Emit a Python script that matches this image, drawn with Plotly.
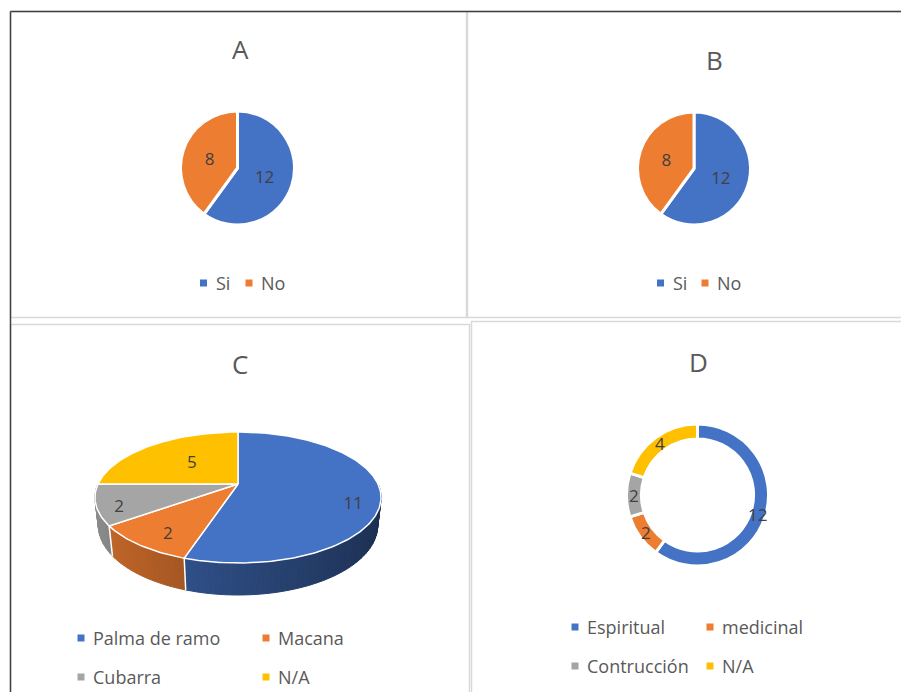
import math
import plotly.graph_objects as go

# The page body has an 8px margin, so the figure is placed at (8, 8) in the window.
OFF = 8
WIN_W, WIN_H = 909, 692
W, H = WIN_W - OFF, WIN_H - OFF

# ---------------- data ----------------
titles = ["A", "B", "C", "D"]
a_labels = ["Si", "No"]
a_values = [12, 8]
b_labels = ["Si", "No"]
b_values = [12, 8]
c_labels = ["Palma de ramo", "Macana", "Cubarra", "N/A"]
c_values = [11, 2, 2, 5]
d_labels = ["Espiritual", "medicinal", "Contrucción", "N/A"]
d_values = [12, 2, 2, 4]

# ---------------- style ----------------
COLORS = ["#4472C4", "#ED7D31", "#A5A5A5", "#FFC000"]
TEXT_C = "#404040"
TITLE_C = "#595959"
FONT = "Open Sans"
LBL_SIZE = 17
LEG_SIZE = 18
TITLE_SIZE = 26


def dom(cx, cy, r):
    """pie domain from a centre/radius given in window pixels"""
    return dict(x=[(cx - r - OFF) / W, (cx + r - OFF) / W],
                y=[1 - (cy + r - OFF) / H, 1 - (cy - r - OFF) / H])


def hex_rgb(h):
    h = h.lstrip("#")
    return tuple(int(h[i:i + 2], 16) for i in (0, 2, 4))


def shade(h, f):
    r, g, b = hex_rgb(h)
    return "rgb(%d,%d,%d)" % (round(r * f), round(g * f), round(b * f))


fig = go.Figure()

pie_common = dict(
    sort=False, direction="clockwise", rotation=0,
    textposition="inside", insidetextorientation="horizontal",
    textfont=dict(size=LBL_SIZE, color=TEXT_C, family=FONT),
    showlegend=False, hoverinfo="label+value",
)

# A
fig.add_trace(go.Pie(labels=a_labels, values=a_values, domain=dom(237.5, 168, 57), textinfo="value",
                     marker=dict(colors=COLORS[:2], line=dict(color="white", width=3)),
                     **pie_common))
# B
fig.add_trace(go.Pie(labels=b_labels, values=b_values, domain=dom(694, 168.5, 56.5), textinfo="value",
                     marker=dict(colors=COLORS[:2], line=dict(color="white", width=3)),
                     **pie_common))
# D (doughnut) - labels placed on the ring centre line (annotations below)
D_CX, D_CY, D_R, D_HOLE = 697.5, 495, 71, 0.79
fig.add_trace(go.Pie(labels=d_labels, values=d_values, domain=dom(D_CX, D_CY, D_R), hole=D_HOLE,
                     textinfo="none",
                     marker=dict(colors=COLORS, line=dict(color="white", width=3)),
                     **pie_common))

# C : 3-D pie projected with a simple perspective camera
CX, CY = 238, 484          # projected centre of the pie (window px)
F, DIST = 607.6, 4.34      # focal length (px per radius), camera distance (radii)
SE, CE = 0.448, 0.894      # sin / cos of the elevation
THICK = 0.2235             # pie thickness (radii)
LABEL_R = [0.82, 0.75, 0.85, 0.5]
LABEL_Z = [-0.1, -0.05, -0.05, 0.0]


def proj(theta, rho, z):
    t = math.radians(theta)
    X = rho * math.sin(t)
    Yd = rho * math.cos(t)
    depth = DIST + Yd * CE - z * SE
    sx = X * F / depth
    sy = (Yd * SE + z * CE) * F / depth
    return CX + sx, CY - sy


def spans(values):
    tot = sum(values)
    out, acc = [], 0
    for v in values:
        a0 = acc / tot * 360
        acc += v
        out.append((a0, acc / tot * 360))
    return out


bounds = spans(c_values)

# side walls (front half only)
for i, (a0, a1) in enumerate(bounds):
    s0, s1 = max(a0, 90), min(a1, 270)
    if s1 <= s0:
        continue
    n = max(2, int((s1 - s0) / 2))
    for k in range(n):
        t0 = s0 + (s1 - s0) * k / n
        t1 = s0 + (s1 - s0) * (k + 1) / n
        tm = (t0 + t1) / 2
        f = 0.40 + 0.45 * (1 - math.sin(math.radians(tm))) / 2
        col = shade(COLORS[i], f)
        pts = [proj(t0, 1, 0), proj(t1, 1, 0), proj(t1, 1, -THICK), proj(t0, 1, -THICK)]
        xs = [p[0] for p in pts] + [pts[0][0]]
        ys = [p[1] for p in pts] + [pts[0][1]]
        fig.add_trace(go.Scatter(x=xs, y=ys, fill="toself", fillcolor=col, mode="lines",
                                 line=dict(color=col, width=1), hoverinfo="skip", showlegend=False))

# white seams on the side wall
for (a0, a1) in bounds:
    if 90 < a0 < 270:
        p0, p1 = proj(a0, 1, 0), proj(a0, 1, -THICK)
        fig.add_trace(go.Scatter(x=[p0[0], p1[0]], y=[p0[1], p1[1]], mode="lines",
                                 line=dict(color="white", width=1.5), hoverinfo="skip",
                                 showlegend=False))

# top faces
apex = proj(0, 0, 0)
for i, (a0, a1) in enumerate(bounds):
    n = max(4, int(a1 - a0))
    arc = [proj(a0 + (a1 - a0) * k / n, 1, 0) for k in range(n + 1)]
    xs = [apex[0]] + [p[0] for p in arc] + [apex[0]]
    ys = [apex[1]] + [p[1] for p in arc] + [apex[1]]
    fig.add_trace(go.Scatter(x=xs, y=ys, fill="toself", fillcolor=COLORS[i], mode="lines",
                             line=dict(color="white", width=1.5), name=c_labels[i],
                             hoverinfo="name", showlegend=False))

# value labels of C
lx, ly = [], []
for i, (a0, a1) in enumerate(bounds):
    p = proj((a0 + a1) / 2, LABEL_R[i], LABEL_Z[i])
    lx.append(p[0])
    ly.append(p[1])
fig.add_trace(go.Scatter(x=lx, y=ly, mode="text", text=[str(v) for v in c_values],
                         textfont=dict(size=LBL_SIZE, color=TEXT_C, family=FONT),
                         hoverinfo="skip", showlegend=False))

annotations = []

# value labels of D on the ring centre line (annotations sit above the pie layer)
r_mid = D_R * (1 + D_HOLE) / 2
for v, (a0, a1) in zip(d_values, spans(d_values)):
    t = math.radians((a0 + a1) / 2)
    annotations.append(dict(xref="x", yref="y", x=D_CX + r_mid * math.sin(t), y=D_CY - r_mid * math.cos(t),
                            text=str(v), showarrow=False,
                            font=dict(size=LBL_SIZE, color=TEXT_C, family=FONT)))

# ---------------- layout decorations ----------------
shapes = []
LIGHT = "#D9D9D9"
for (x0, y0, x1, y1) in [(10, 11, 466, 317), (467, 11, 912, 317), (10, 324, 469, 695), (471, 321, 912, 695)]:
    shapes.append(dict(type="rect", xref="x", yref="y", x0=x0 + 0.5, y0=y0 + 0.5, x1=x1 + 0.5, y1=y1 + 0.5,
                       line=dict(color=LIGHT, width=1.5), layer="below"))
shapes.append(dict(type="line", xref="x", yref="y", x0=10.5, y0=11.5, x1=10.5, y1=WIN_H,
                   line=dict(color="#404040", width=1.5)))
shapes.append(dict(type="line", xref="x", yref="y", x0=10.5, y0=11.5, x1=WIN_W, y1=11.5,
                   line=dict(color="#404040", width=1.5)))

for t, (tx, ty) in zip(titles, [(240, 49), (714, 60), (240, 364), (698, 362)]):
    annotations.append(dict(xref="x", yref="y", x=tx, y=ty, text=t, showarrow=False,
                            font=dict(size=TITLE_SIZE, color=TITLE_C, family=FONT)))

SQ = 3.5
legend_specs = [
    (a_labels, [(203.5, 283), (249, 283)]),
    (b_labels, [(660.5, 283), (705, 283)]),
    (c_labels, [(81, 638), (266, 638), (81, 677), (266, 677)]),
    (d_labels, [(575, 627), (710, 627), (575, 666), (710, 666)]),
]
for labels, pos in legend_specs:
    for i, (lab, (sx, sy)) in enumerate(zip(labels, pos)):
        shapes.append(dict(type="rect", xref="x", yref="y", x0=sx - SQ, x1=sx + SQ, y0=sy - SQ, y1=sy + SQ,
                           fillcolor=COLORS[i], line=dict(width=0)))
        annotations.append(dict(xref="x", yref="y", x=sx + 10, y=sy, xanchor="left", yanchor="middle",
                                text=lab, showarrow=False,
                                font=dict(size=LEG_SIZE, color=TITLE_C, family=FONT)))

fig.update_layout(
    width=W, height=H, margin=dict(l=0, r=0, t=0, b=0),
    paper_bgcolor="white", plot_bgcolor="white",
    xaxis=dict(range=[OFF, WIN_W], domain=[0, 1], visible=False, fixedrange=True),
    yaxis=dict(range=[WIN_H, OFF], domain=[0, 1], visible=False, fixedrange=True),
    uniformtext=dict(minsize=LBL_SIZE, mode="show"),
    shapes=shapes, annotations=annotations, showlegend=False,
    font=dict(family=FONT, color=TITLE_C),
)

fig.write_html("out.html")
